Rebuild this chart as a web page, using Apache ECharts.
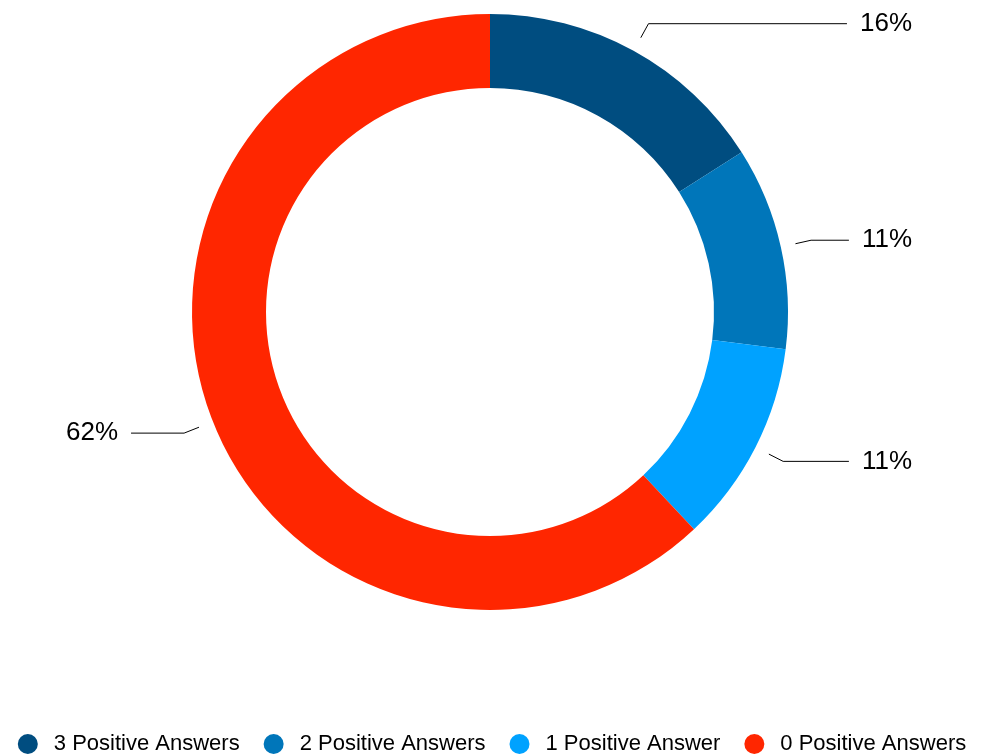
<!DOCTYPE html>
<html>
<head>
<meta charset="utf-8">
<script src="https://cdn.jsdelivr.net/npm/echarts@6/dist/echarts.min.js"></script>
<style>html,body{margin:0;padding:0;background:#fff}#c{width:984px;height:756px}</style>
</head>
<body>
<div id="c"></div>
<script>
const categories = ['3 Positive Answers', '2 Positive Answers', '1 Positive Answer', '0 Positive Answers'];
const values = [16, 11, 11, 62];
const colors = ['#004D80', '#0076BA', '#00A2FF', '#FF2600'];

const FONT = '"Liberation Sans", Arial, Helvetica, sans-serif';
const chart = echarts.init(document.getElementById('c'), null, {renderer: 'canvas'});

const visibleData = categories.map((n, i) => ({name: n, value: values[i], itemStyle: {color: colors[i]}}));
const labelData = categories.map((n, i) => ({name: n, value: values[i]}));

chart.setOption({
  animation: false,
  backgroundColor: '#ffffff',
  legend: {
    data: categories,
    top: 728,
    left: 'center',
    icon: 'circle',
    itemWidth: 20,
    itemHeight: 20,
    itemGap: 24,
    textStyle: {fontFamily: FONT, fontSize: 22, color: '#000', padding: [0, 0, 0, 11]}
  },
  series: [
    {
      type: 'pie',
      left: 0, right: 6, top: 0, bottom: 0,
      center: [490, 312],
      radius: [224, 298],
      startAngle: 90,
      clockwise: true,
      silent: true,
      label: {show: false},
      labelLine: {show: false},
      data: visibleData
    },
    {
      type: 'pie',
      left: 0, right: 6, top: 0, bottom: 0,
      center: [490, 312],
      radius: [312, 313],
      startAngle: 90,
      clockwise: true,
      silent: true,
      itemStyle: {color: 'rgba(0,0,0,0)', borderWidth: 0},
      label: {
        show: true,
        formatter: p => Math.round(p.percent) + '%',
        fontFamily: FONT,
        fontSize: 26,
        color: '#000',
        alignTo: 'edge',
        edgeDistance: 66,
        distanceToLabelLine: 13
      },
      labelLine: {
        show: true,
        length: 16,
        length2: 20,
        lineStyle: {color: '#000', width: 1}
      },
      data: labelData
    }
  ]
});
</script>
</body>
</html>
